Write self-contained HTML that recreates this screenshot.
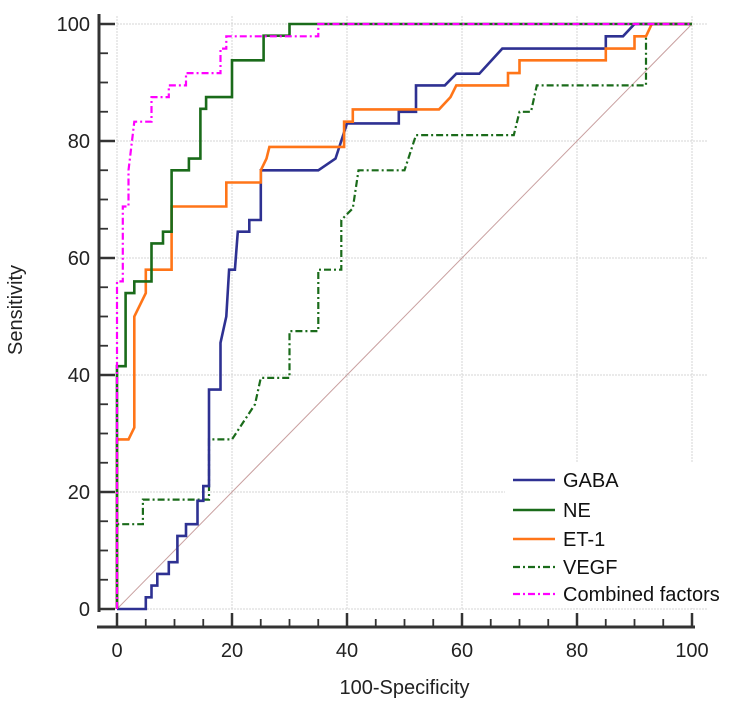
<!DOCTYPE html>
<html><head><meta charset="utf-8"><style>
html,body{margin:0;padding:0;background:#fff}
svg{display:block;font-family:"Liberation Sans",Arial,sans-serif}
</style></head><body>
<svg id="chart" width="744" height="702" viewBox="0 0 744 702"></svg>
<script>
const ticks=[0,20,40,60,80,100];
const seriesNames=["GABA","NE","ET-1","VEGF","Combined factors"];
const gabaX=[0,5,5,6,6,7,7,9,9,10.5,10.5,12,12,14,14,15,15,16,16,18,18,19,19.5,20.5,21,23,23,25,25,30,35,38,40,49,49,52,52,57,59,63,67,85,85,88,90,100];
const gabaY=[0,0,2,2,4,4,6,6,8,8,12.5,12.5,14.5,14.5,18.5,18.5,21,21,37.5,37.5,45.5,50,58,58,64.5,64.5,66.5,66.5,75,75,75,77,83,83,85,85,89.5,89.5,91.5,91.5,95.8,95.8,97.9,97.9,100,100];
const neX=[0,0,1.5,1.5,3,3,6,6,8,8,9.5,9.5,12.5,12.5,14.5,14.5,15.5,15.5,20,20,25.5,25.5,30,30,100];
const neY=[0,41.5,41.5,54,54,56,56,62.5,62.5,64.5,64.5,75,75,77,77,85.5,85.5,87.5,87.5,93.8,93.8,98,98,100,100];
const etX=[0,0,2,3,3,5,5,9.5,9.5,19,19,25,25,26,26.5,39.5,39.5,41,41,56,58,59,68,68,70,70,85,85,90,90,92,93,100];
const etY=[0,29,29,31,50,54,58,58,68.8,68.8,72.9,72.9,75,77,79,79,83.3,83.3,85.4,85.4,87.5,89.5,89.5,91.6,91.6,93.8,93.8,95.8,95.8,97.9,97.9,100,100];
const vegfX=[0,0,4.5,4.5,16,16,20,24,25,30,30,35,35,39,39,41,42,50,52,69,70,72,73,92,92,93,100];
const vegfY=[0,14.5,14.5,18.7,18.7,29,29,35,39.5,39.5,47.5,47.5,58,58,66.5,68.5,75,75,81,81,85,85,89.5,89.5,97.9,100,100];
const combX=[0,0,1,1,2,2,3,6,6,9,9,12,12,18,18,19,19,35,35,100];
const combY=[0,56,56,68.8,68.8,75,83.3,83.3,87.5,87.5,89.5,89.5,91.6,91.6,95.8,95.8,97.9,97.9,100,100];

const NS="http://www.w3.org/2000/svg";
const svg=document.getElementById('chart');
const X0=117,X1=692,Y0=609,Y1=24;
const sx=v=>X0+(X1-X0)*v/100, sy=v=>Y0-(Y0-Y1)*v/100;
function mk(tag,attrs,parent){const e=document.createElementNS(NS,tag);for(const k in attrs)e.setAttribute(k,attrs[k]);(parent||svg).appendChild(e);return e;}

const grid=mk('g',{});


ticks.forEach(t=>{
  mk('line',{x1:sx(t),x2:sx(t),y1:Y1-8,y2:Y0,stroke:'#d4d4d4','stroke-width':1,'stroke-dasharray':'2,1'},grid);
  mk('line',{x1:X0,x2:X1+16,y1:sy(t),y2:sy(t),stroke:'#d4d4d4','stroke-width':1,'stroke-dasharray':'2,1'},grid);
});
const diag=mk('line',{x1:sx(0),y1:sy(0),x2:sx(100),y2:sy(100),stroke:'#c9a0a0','stroke-width':1});



const lbg=mk('rect',{x:505,y:462,width:239,height:146,fill:'#fff'});



const styles=[
 {c:'#2e3192',d:'',w:2.6},
 {c:'#1a6b1a',d:'',w:2.6},
 {c:'#ff7518',d:'',w:2.6},
 {c:'#1a6b1a',d:'7,3,2,3',w:2.2},
 {c:'#ff00ff',d:'7,3,2,3',w:2.2}
];
const data=[[gabaX,gabaY],[neX,neY],[etX,etY],[vegfX,vegfY],[combX,combY]];
const order=[3,0,2,1,4];
order.forEach(i=>{
  const [xs,ys]=data[i];
  const pts=xs.map((x,j)=>sx(x).toFixed(1)+','+sy(ys[j]).toFixed(1)).join(' ');
  const p=mk('polyline',{points:pts,fill:'none',stroke:styles[i].c,'stroke-width':styles[i].w,'stroke-dasharray':styles[i].d,'stroke-linejoin':'miter'});
  
  
});

const ax=mk('g',{stroke:'#333','stroke-width':3});


mk('line',{x1:99,x2:99,y1:14,y2:612},ax);
mk('line',{x1:97,x2:X1+3,y1:627,y2:627},ax);
for(let v=0;v<=100;v+=5){
  const major=v%20===0;
  mk('line',{x1:99,x2:99+(major?16:9),y1:sy(v),y2:sy(v),'stroke-width':major?2.5:1.8},ax);
  mk('line',{x1:sx(v),x2:sx(v),y1:627,y2:627-(major?14:8),'stroke-width':major?2.5:1.8},ax);
}
const tl=mk('g',{fill:'#222','font-size':20});


ticks.forEach(t=>{
  const a=mk('text',{x:90,y:sy(t)+7,'text-anchor':'end'},tl);a.textContent=t;
  const b=mk('text',{x:sx(t),y:657,'text-anchor':'middle'},tl);b.textContent=t;
});
const xt=mk('text',{x:sx(50),y:694,'text-anchor':'middle','font-size':20,fill:'#222'});
xt.textContent='100-Specificity';


const yt=mk('text',{x:0,y:0,'text-anchor':'middle','font-size':20,fill:'#222',transform:'translate(22,310) rotate(-90)'});
yt.textContent='Sensitivity';



const legY=[480,510,539,567,594];
seriesNames.forEach((n,i)=>{
  const g=mk('g',{});
  
  
  mk('line',{x1:513,x2:555,y1:legY[i],y2:legY[i],stroke:styles[i].c,'stroke-width':styles[i].w,'stroke-dasharray':styles[i].d},g);
  const t=mk('text',{x:563,y:legY[i]+7,'font-size':20,fill:'#111'},g);t.textContent=n;
});
</script>
</body></html>
